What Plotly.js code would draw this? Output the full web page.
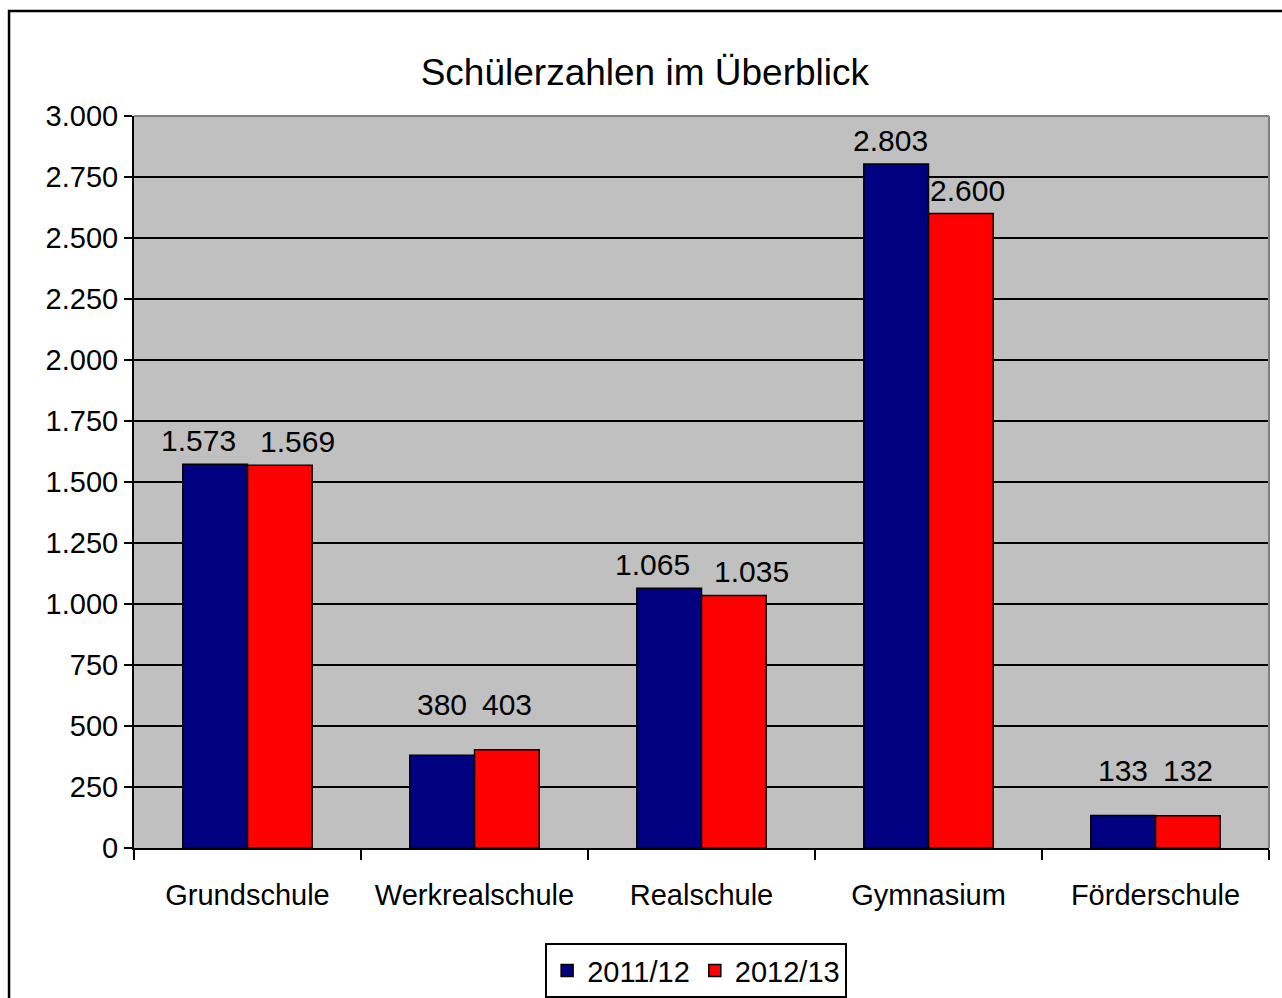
<!DOCTYPE html>
<html>
<head>
<meta charset="utf-8">
<script src="https://cdn.plot.ly/plotly-3.0.1.min.js"></script>
<style>html,body{margin:0;padding:0;background:#fff;overflow:hidden;}#chart{width:1282px;height:998px;}</style>
</head>
<body>
<div id="chart"></div>
<script>
const categories = ["Grundschule", "Werkrealschule", "Realschule", "Gymnasium", "Förderschule"];
const seriesNames = ["2011/12", "2012/13"];
const values2011 = [1573, 380, 1065, 2803, 133];
const values2012 = [1569, 403, 1035, 2600, 132];
const yTicks = [0, 250, 500, 750, 1000, 1250, 1500, 1750, 2000, 2250, 2500, 2750, 3000];

const font = "Liberation Sans, Arial, sans-serif";
const fmt = v => v.toLocaleString("de-DE");

function makeTrace(name, vals, color) {
  return {
    type: "bar", name: name, x: categories, y: vals,
    marker: {color: color, line: {color: "#000", width: 1.5}},
    hoverinfo: "none"
  };
}
const data = [makeTrace(seriesNames[0], values2011, "#000080"), makeTrace(seriesNames[1], values2012, "#FF0000")];

// value labels as annotations, placed like the original chart's labels
const halfBar = 32.5;
const annotations = [];
categories.forEach((c, i) => {
  const a = values2011[i], b = values2012[i];
  let spread = 0;
  if (a >= 1000 && b >= 1000) spread = Math.abs(a - b) < 100 ? 17 : 6;
  const small = a < 1000 && b < 1000;
  [[a, -1], [b, 1]].forEach(([v, side]) => {
    annotations.push({
      x: c, xref: "x", y: small ? Math.max(a, b) : v, yref: "y", text: fmt(v), showarrow: false,
      xanchor: "center", yanchor: "bottom", xshift: side * (halfBar + spread), yshift: small ? 27 : 5,
      font: {family: font, size: 30, color: "#000"}
    });
  });
});

const layout = {
  width: 1282, height: 998,
  margin: {l: 134, r: 13, t: 116, b: 150, autoexpand: false},
  paper_bgcolor: "#fff", plot_bgcolor: "#C0C0C0",
  separators: ",.",
  font: {family: font, color: "#000"},
  title: {text: "Schülerzahlen im Überblick", font: {family: font, size: 37, color: "#000"},
          x: 0.503, xref: "container", y: 0.928, yref: "container", yanchor: "middle", xanchor: "center"},
  barmode: "group", bargap: 0.43, bargroupgap: 0,
  showlegend: true,
  legend: {orientation: "h", x: 0.543, xref: "container", xanchor: "center", y: 0.055, yref: "container", yanchor: "top",
           bordercolor: "#000", borderwidth: 2, bgcolor: "#fff",
           font: {family: font, size: 29, color: "#000"}, itemwidth: 30, traceorder: "normal"},
  xaxis: {type: "category", tickson: "boundaries", ticks: "outside", ticklen: 10, tickwidth: 2, tickcolor: "#000",
          showline: true, linecolor: "#000", linewidth: 2, showgrid: false, automargin: false,
          tickfont: {family: font, size: 29, color: "#000"}, ticklabelstandoff: 20, fixedrange: true},
  yaxis: {range: [0, 3000], tickvals: yTicks, tickformat: ",", ticks: "outside", ticklen: 8, tickwidth: 2, tickcolor: "#000",
          showline: true, linecolor: "#000", linewidth: 2, showgrid: true, gridcolor: "#000", gridwidth: 1.5,
          zeroline: false, automargin: false, tickfont: {family: font, size: 29, color: "#000"}, fixedrange: true},
  annotations: annotations,
  shapes: [
    {type: "line", xref: "paper", yref: "paper", x0: 0, x1: 1, y0: 1, y1: 1, line: {color: "#808080", width: 2}},
    {type: "line", xref: "paper", yref: "paper", x0: 1, x1: 1, y0: 0, y1: 1, line: {color: "#808080", width: 2}},
    {type: "rect", xref: "paper", yref: "paper", x0: -0.1101, x1: 1.03, y0: -0.25, y1: 1.1434,
     line: {color: "#000", width: 2.5}, fillcolor: "rgba(0,0,0,0)", layer: "above"}
  ]
};
Plotly.newPlot("chart", data, layout, {displayModeBar: false, staticPlot: true});
</script>
</body>
</html>
